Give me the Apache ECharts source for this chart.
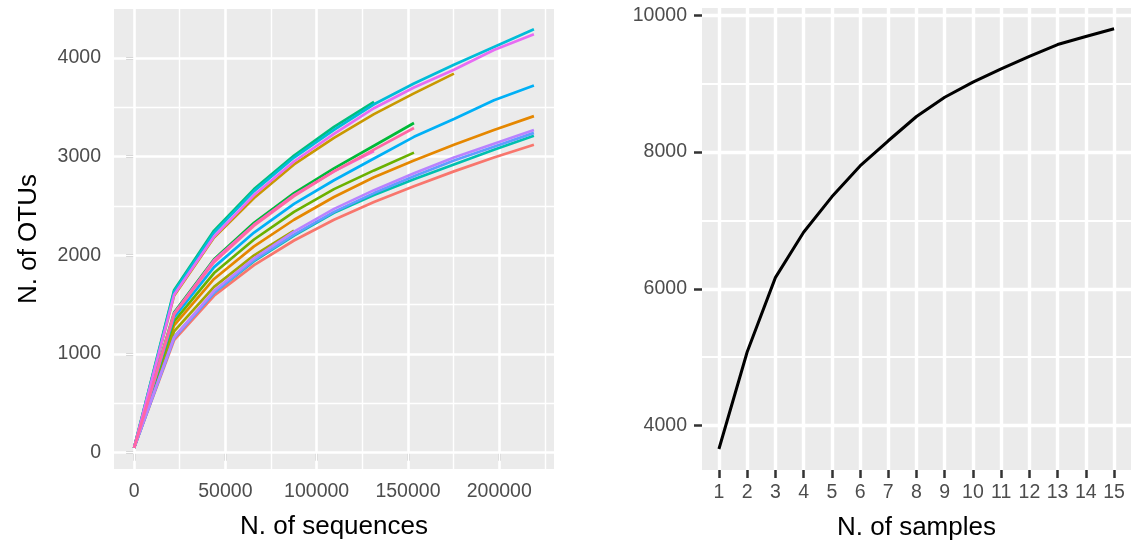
<!DOCTYPE html>
<html><head><meta charset="utf-8">
<script src="https://cdn.jsdelivr.net/npm/echarts@6/dist/echarts.min.js"></script>
<style>html,body{margin:0;padding:0;background:#fff}#c{width:1139px;height:546px}</style>
</head><body><div id="c"></div>
<script>
// ---- data ----
const seqDepth = [1, 21900, 43800, 65700, 87600, 109500, 131400, 153300, 175200, 197100, 219000];
const S01 = [50, 1140, 1590, 1900, 2150, 2360, 2540, 2700, 2850, 2990, 3120];
const S02 = [50, 1290, 1760, 2090, 2360, 2590, 2790, 2960, 3120, 3270, 3410];
const S03 = [50, 1590, 2180, 2580, 2920, 3190, 3430, 3640, 3840];
const S04 = [50, 1230, 1680, 2000, 2250];
const S05 = [50, 1330, 1820, 2160, 2440, 2670, 2860, 3040];
const S06 = [50, 1420, 1960, 2330, 2630, 2880, 3110, 3340];
const S07 = [50, 1645, 2250, 2670, 3010, 3300, 3555];
const S08 = [50, 1170, 1620, 1940, 2200, 2430, 2610, 2770, 2920, 3070, 3210];
const S09 = [50, 1630, 2230, 2650, 2990, 3270, 3530, 3740, 3930, 4110, 4290];
const S10 = [50, 1370, 1880, 2230, 2520, 2760, 2980, 3200, 3380, 3570, 3720];
const S11 = [50, 1160, 1620, 1950, 2210, 2440, 2630, 2800, 2960, 3100, 3240];
const S12 = [50, 1170, 1640, 1970, 2240, 2470, 2660, 2830, 2990, 3130, 3270];
const S13 = [50, 1600, 2190, 2610, 2950, 3230, 3490, 3700, 3880, 4080, 4240];
const S14 = [50, 1410, 1950, 2310, 2610, 2850, 3055];
const S15 = [50, 1400, 1930, 2300, 2600, 2850, 3070, 3290];
const sampleCurves = [S01, S02, S03, S04, S05, S06, S07, S08, S09, S10, S11, S12, S13, S14, S15];

const nSamples = [1, 2, 3, 4, 5, 6, 7, 8, 9, 10, 11, 12, 13, 14, 15];
const cumOTUs = [3656, 5075, 6163, 6826, 7345, 7797, 8165, 8520, 8802, 9022, 9217, 9398, 9573, 9690, 9803];

const xTicksSeq = [0, 50000, 100000, 150000, 200000];
const yTicksOTU = [0, 1000, 2000, 3000, 4000];
const xTicksSamples = [1, 2, 3, 4, 5, 6, 7, 8, 9, 10, 11, 12, 13, 14, 15];
const yTicksCum = [4000, 6000, 8000, 10000];

// ---- style ----
const palette = ['#F8766D','#E58700','#C99800','#A3A500','#6BB100','#00BA38','#00BF7D','#00C0AF',
                 '#00BCD8','#00B0F6','#619CFF','#B983FF','#E76BF3','#FD61D1','#FF67A4'];
const FONT = '"Liberation Sans", Arial, Helvetica, sans-serif';
const mids = a => a.slice(0, -1).map((v, i) => (v + a[i + 1]) / 2);

function gridLines(xi, yi, xs, ys, width) {
  return {
    type: 'line', xAxisIndex: xi, yAxisIndex: yi, data: [], silent: true, z: 1,
    markLine: {
      z: 1, zlevel: 0,
      silent: true, symbol: ['none', 'none'], label: { show: false }, animation: false,
      emphasis: { disabled: true },
      lineStyle: { color: '#FFFFFF', width: width, type: 'solid', opacity: 1 },
      data: [...xs.map(v => ({ xAxis: v })), ...ys.map(v => ({ yAxis: v }))]
    }
  };
}

function axisCommon(ticks, margin) {
  return {
    axisLine: { show: false },
    axisTick: { show: true, length: 8, customValues: ticks, lineStyle: { color: '#333333', width: 2.5 } },
    axisLabel: { customValues: ticks, color: '#4D4D4D', fontSize: 19.5, fontFamily: FONT, margin: margin,
                 formatter: v => String(v) },
    splitLine: { show: false }
  };
}

const series = [
  gridLines(0, 0, mids(xTicksSeq).concat([225000]), mids(yTicksOTU), 1.4),
  gridLines(0, 0, xTicksSeq, yTicksOTU, 2.6),
  gridLines(1, 1, [], mids(yTicksCum), 1.8),
  gridLines(1, 1, xTicksSamples, yTicksCum, 3.4)
];
sampleCurves.forEach((vals, i) => {
  series.push({
    type: 'line', xAxisIndex: 0, yAxisIndex: 0, z: 3,
    data: vals.map((v, j) => [seqDepth[j], v]),
    showSymbol: false, symbol: 'none', silent: true, animation: false,
    lineStyle: { color: palette[i], width: 2.7 }
  });
});
series.push({
  type: 'line', xAxisIndex: 1, yAxisIndex: 1, z: 3,
  data: nSamples.map((n, j) => [n, cumOTUs[j]]),
  showSymbol: false, symbol: 'none', silent: true, animation: false,
  lineStyle: { color: '#000000', width: 3 }
});

const chart = echarts.init(document.getElementById('c'), null, { renderer: 'canvas' });
chart.setOption({
  animation: false,
  backgroundColor: '#FFFFFF',
  grid: [
    { left: 114, top: 9, width: 440, height: 460, show: true, backgroundColor: '#EBEBEB', borderWidth: 0 },
    { left: 702, top: 8, width: 429, height: 462, show: true, backgroundColor: '#EBEBEB', borderWidth: 0 }
  ],
  xAxis: [
    Object.assign({ type: 'value', gridIndex: 0, min: -11000, max: 230000,
      name: 'N. of sequences', nameLocation: 'middle', nameGap: 45,
      nameTextStyle: { fontSize: 26, color: '#000000', fontFamily: FONT } }, axisCommon(xTicksSeq, 13)),
    Object.assign({ type: 'value', gridIndex: 1, min: 0.4, max: 15.6,
      name: 'N. of samples', nameLocation: 'middle', nameGap: 45,
      nameTextStyle: { fontSize: 26, color: '#000000', fontFamily: FONT } }, axisCommon(xTicksSamples, 13))
  ],
  yAxis: [
    Object.assign({ type: 'value', gridIndex: 0, min: -165, max: 4495,
      name: 'N. of OTUs', nameLocation: 'middle', nameGap: 72,
      nameTextStyle: { fontSize: 26, color: '#000000', fontFamily: FONT } }, axisCommon(yTicksOTU, 13)),
    Object.assign({ type: 'value', gridIndex: 1, min: 3349, max: 10107 }, axisCommon(yTicksCum, 15))
  ],
  series: series
});
</script></body></html>
